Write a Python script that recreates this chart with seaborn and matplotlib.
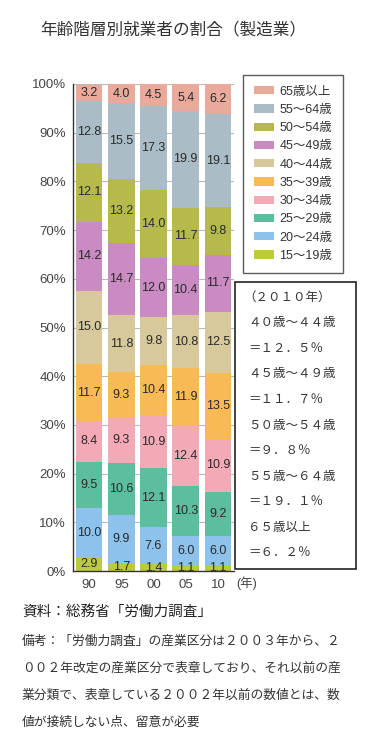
import numpy as np
import pandas as pd
import matplotlib
matplotlib.use("Agg")
import matplotlib.pyplot as plt
from matplotlib.patches import Patch, Rectangle
import seaborn as sns

years = ["90", "95", "00", "05", "10"]
groups = ["15～19歳", "20～24歳", "25～29歳", "30～34歳", "35～39歳",
          "40～44歳", "45～49歳", "50～54歳", "55～64歳", "65歳以上"]
v15_19 = [2.9, 1.7, 1.4, 1.1, 1.1]
v20_24 = [10.0, 9.9, 7.6, 6.0, 6.0]
v25_29 = [9.5, 10.6, 12.1, 10.3, 9.2]
v30_34 = [8.4, 9.3, 10.9, 12.4, 10.9]
v35_39 = [11.7, 9.3, 10.4, 11.9, 13.5]
v40_44 = [15.0, 11.8, 9.8, 10.8, 12.5]
v45_49 = [14.2, 14.7, 12.0, 10.4, 11.7]
v50_54 = [12.1, 13.2, 14.0, 11.7, 9.8]
v55_64 = [12.8, 15.5, 17.3, 19.9, 19.1]
v65 = [3.2, 4.0, 4.5, 5.4, 6.2]
series = [v15_19, v20_24, v25_29, v30_34, v35_39, v40_44, v45_49, v50_54, v55_64, v65]
colors = ["#bccb3c", "#8cc2ec", "#5cbe9e", "#f4aab6", "#f8ba55",
          "#d7c99c", "#c98bc2", "#b6ba4c", "#aabdc7", "#e9aa9c"]

note_lines = ["（２０１０年）", "４０歳～４４歳", "＝１２．５％", "４５歳～４９歳", "＝１１．７％",
              "５０歳～５４歳", "＝９．８％", "５５歳～６４歳", "＝１９．１％", "６５歳以上", "＝６．２％"]

sns.set_theme(style="white")
plt.rcParams["font.family"] = ["Liberation Sans", "Noto Sans CJK JP"]

W, H = 366, 750
fig = plt.figure(figsize=(W / 100, H / 100), dpi=100)
ax = fig.add_axes([73 / W, 1 - 571 / H, (234 - 73) / W, (571 - 84) / H])

bottom = np.zeros(len(years))
for name, vals, col in zip(groups, series, colors):
    df = pd.DataFrame({"year": years, "share": vals})
    sns.barplot(data=df, x="year", y="share", order=years, color=col, saturation=1,
                width=0.82, bottom=bottom.copy(), linewidth=0, ax=ax)
    ax.bar_label(ax.containers[-1], labels=[f"{v:.1f}" for v in vals],
                 label_type="center", fontsize=9, color="#2a2a2a")
    bottom += np.array(vals)

ax.set_ylim(0, 100)
ax.set_xlim(-0.5, 4.5)
ax.set_yticks(range(0, 101, 10))
ax.set_yticklabels([f"{t}%" for t in range(0, 101, 10)], fontsize=9.5, color="#444444")
ax.set_xticks(range(len(years)))
ax.set_xticklabels(years, fontsize=9.5, color="#444444")
ax.set_xticks(np.arange(-0.5, 5, 1), minor=True)
ax.tick_params(axis="x", which="major", length=0, pad=6)
ax.tick_params(axis="x", which="minor", length=4, color="#333333", direction="out")
ax.tick_params(axis="y", length=3, color="#333333", direction="out", pad=2)
ax.yaxis.grid(True, color="#b8b8b8", lw=0.8)
ax.set_axisbelow(True)
ax.set_xlabel("")
ax.set_ylabel("")
for s in ["top", "right"]:
    ax.spines[s].set_visible(False)
for s in ["left", "bottom"]:
    ax.spines[s].set_color("#333333")
    ax.spines[s].set_linewidth(1.0)

fig.text(236 / W, 1 - 583 / H, "(年)", fontsize=9, color="#444444", va="center")

# legend (top group first)
handles = [Patch(facecolor=c, edgecolor="none") for c in colors[::-1]]
leg = fig.legend(handles, groups[::-1], loc="upper left",
                 bbox_to_anchor=(243 / W, 1 - 75 / H), fontsize=9,
                 frameon=True, fancybox=False, handlelength=1.6, handleheight=0.65,
                 labelspacing=0.5, borderpad=0.85, handletextpad=0.45, borderaxespad=0)
leg.get_frame().set_edgecolor("#333333")
leg.get_frame().set_linewidth(1.0)
for t in leg.get_texts():
    t.set_color("#333333")

# note box for 2010
fig.patches.append(Rectangle((235 / W, 1 - 569 / H), (356 - 235) / W, (569 - 282) / H,
                             transform=fig.transFigure, fill=False, edgecolor="#222222", lw=1.2))
for i, line in enumerate(note_lines):
    x0 = 243 if i == 0 else 248
    fig.text(x0 / W, 1 - (297 + i * 25.6) / H, line, fontsize=9, color="#333333",
             va="center", family=["Noto Sans CJK JP"])

fig.text(40 / W, 1 - 30 / H, "年齢階層別就業者の割合（製造業）", fontsize=12, color="#333333",
         va="center", family=["Noto Sans CJK JP"])
fig.text(22 / W, 1 - 612 / H, "資料：総務省「労働力調査」", fontsize=10.5, color="#222222",
         va="center", family=["Noto Sans CJK JP"])
notes = ["備考：「労働力調査」の産業区分は２００３年から、２",
         "００２年改定の産業区分で表章しており、それ以前の産",
         "業分類で、表章している２００２年以前の数値とは、数",
         "値が接続しない点、留意が必要"]
for i, line in enumerate(notes):
    fig.text(22 / W, 1 - (641 + i * 27) / H, line, fontsize=9.2, color="#333333",
             va="center", family=["Noto Sans CJK JP"])

fig.savefig("out.png", dpi=100)
